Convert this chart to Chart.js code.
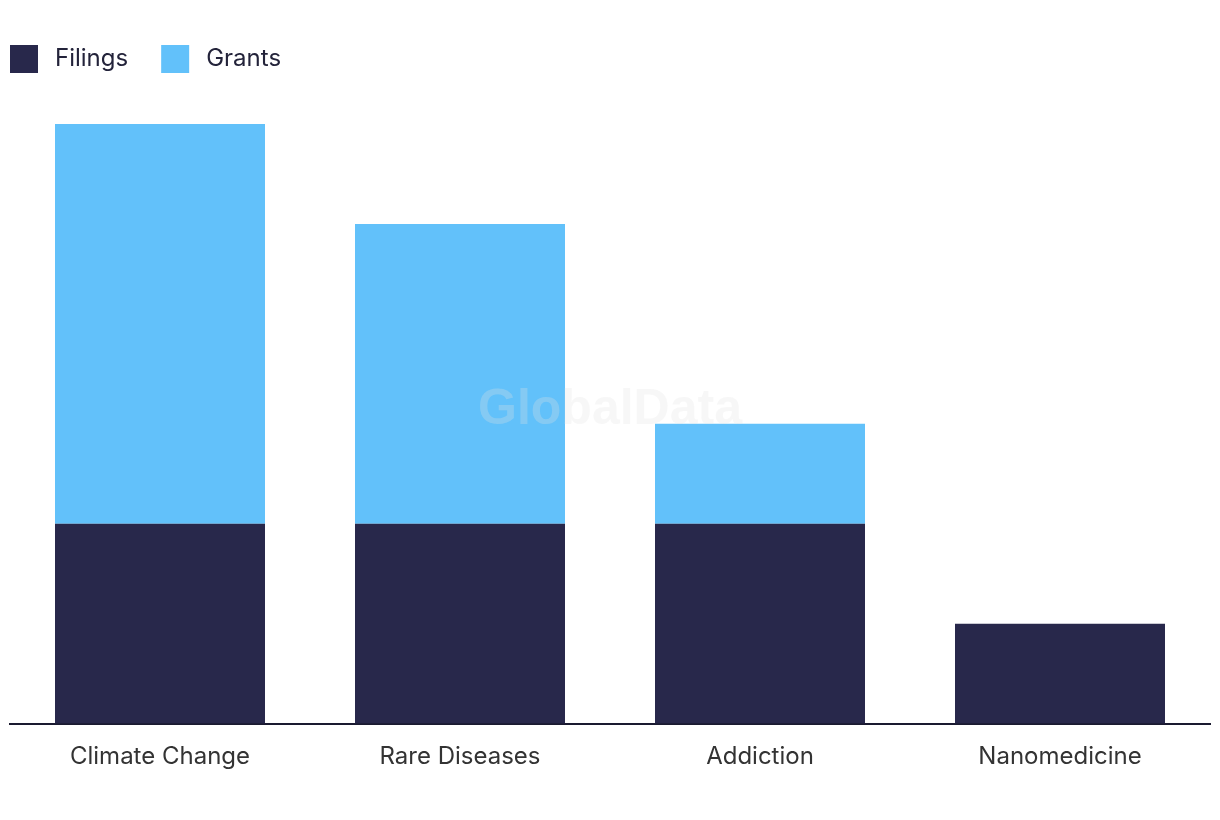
<!DOCTYPE html>
<html>
<head>
<meta charset="utf-8">
<script src="https://cdn.jsdelivr.net/npm/chart.js@4"></script>
<style>
  html, body { margin: 0; padding: 0; background: #fff; }
  #wrap { width: 1220px; height: 820px; }
</style>
</head>
<body>
<div id="wrap"><canvas id="grafico"></canvas></div>
<script>
const categorias = ["Climate Change", "Rare Diseases", "Addiction", "Nanomedicine"];
const filings = [2, 2, 2, 1];
const grants = [4, 3, 1, 0];

const fuente = "Inter, 'DejaVu Sans', sans-serif";

// legend drawn by hand: square + label, left aligned
const leyenda = {
  id: "leyenda",
  afterDraw(chart) {
    const ctx = chart.ctx;
    ctx.save();
    ctx.font = "24px " + fuente;
    ctx.textBaseline = "middle";
    let x = 10;
    chart.data.datasets.forEach((ds) => {
      ctx.fillStyle = ds.backgroundColor;
      ctx.fillRect(x, 45, 28, 28);
      ctx.fillStyle = "#23233a";
      ctx.fillText(ds.label, x + 45, 59);
      x += 45 + ctx.measureText(ds.label).width + 33;
    });
    ctx.restore();
  },
};

const marcaAgua = {
  id: "marcaAgua",
  afterDatasetsDraw(chart) {
    const ctx = chart.ctx;
    ctx.save();
    ctx.font = "bold 50px 'Liberation Sans', Arial, sans-serif";
    ctx.fillStyle = "rgba(225,225,225,0.28)";
    ctx.textAlign = "center";
    ctx.textBaseline = "middle";
    ctx.fillText("GlobalData", 610, 410);
    ctx.restore();
  },
};

new Chart(document.querySelector("#grafico"), {
  type: "bar",
  data: {
    labels: categorias,
    datasets: [
      { label: "Filings", data: filings, backgroundColor: "#28284b" },
      { label: "Grants", data: grants, backgroundColor: "#62c1fa" },
    ],
  },
  options: {
    responsive: true,
    maintainAspectRatio: false,
    animation: false,
    layout: { padding: { top: 124, left: 10, right: 10, bottom: 29.6 } },
    datasets: { bar: { categoryPercentage: 1, barPercentage: 0.7 } },
    plugins: { legend: { display: false }, tooltip: { enabled: false } },
    scales: {
      x: {
        stacked: true,
        grid: { display: false, drawTicks: false },
        border: { display: true, color: "#1a1a30", width: 2 },
        ticks: { color: "#333", padding: 19, font: { family: fuente, size: 24 } },
      },
      y: {
        stacked: true,
        display: false,
        min: 0,
        max: 6,
      },
    },
  },
  plugins: [leyenda, marcaAgua],
});
</script>
</body>
</html>
